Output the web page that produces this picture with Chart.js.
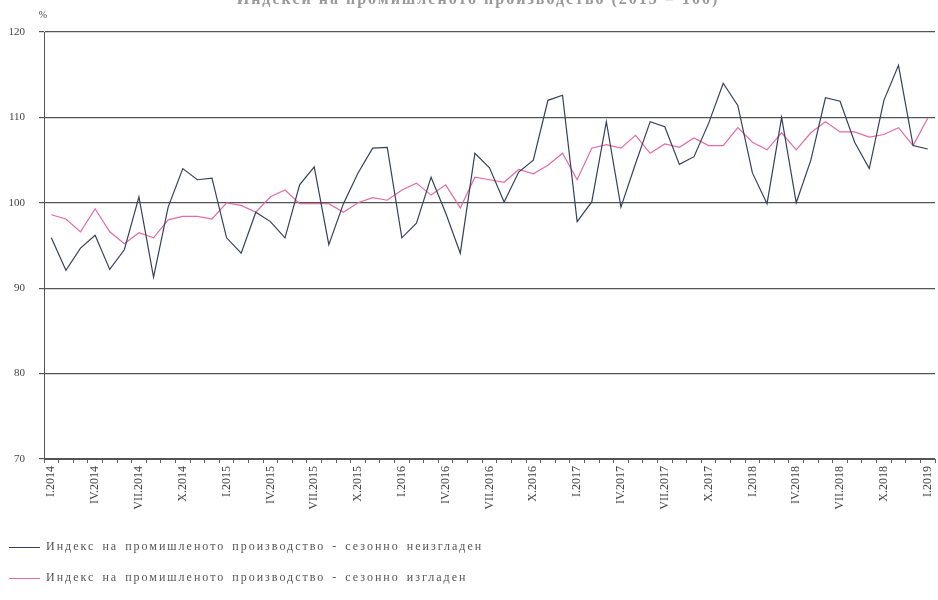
<!DOCTYPE html>
<html>
<head>
<meta charset="utf-8">
<script src="https://cdn.jsdelivr.net/npm/chart.js@4/dist/chart.umd.min.js"></script>
<style>
  body { margin: 0; background: #fff; }
  #wrap { position: relative; width: 938px; height: 600px; overflow: hidden; }
  #chart { display: block; }
  .leg { position: absolute; left: 9px; font: 12px "Liberation Serif", serif; letter-spacing: 2px; word-spacing: 2px; color: #555; white-space: nowrap; }
  .leg span.line { display: inline-block; width: 31px; height: 1px; vertical-align: middle; margin-right: 6px; }
</style>
</head>
<body>
<div id="wrap">
  <canvas id="chart" width="938" height="600"></canvas>
  <div class="leg" style="top:539px"><span class="line" style="background:#34405f"></span>Индекс на промишленото производство - сезонно неизгладен</div>
  <div class="leg" style="top:570px"><span class="line" style="background:#e46aa8"></span>Индекс на промишленото производство - сезонно изгладен</div>
</div>
<script>
var romans = ['I', 'II', 'III', 'IV', 'V', 'VI', 'VII', 'VIII', 'IX', 'X', 'XI', 'XII'];
var years = [2014, 2015, 2016, 2017, 2018, 2019];

// monthly, I.2014 .. I.2019
var unadjusted = [
  95.9, 92.1, 94.7, 96.2, 92.2, 94.5, 100.7, 91.3, 99.5, 104.0, 102.7, 102.9,
  95.9, 94.1, 98.9, 97.8, 95.9, 102.1, 104.2, 95.1, 99.9, 103.5, 106.4, 106.5,
  95.9, 97.6, 103.0, 98.8, 94.1, 105.8, 104.1, 100.1, 103.6, 105.0, 112.0, 112.6,
  97.8, 100.1, 109.5, 99.5, 104.6, 109.5, 108.9, 104.5, 105.4, 109.3, 114.0, 111.4,
  103.5, 99.9, 110.0, 100.0, 105.0, 112.3, 111.9, 107.1, 104.0, 112.0, 116.1, 106.7,
  106.3
];
var adjusted = [
  98.6, 98.1, 96.6, 99.3, 96.6, 95.2, 96.5, 95.9, 98.0, 98.4, 98.4, 98.1,
  100.0, 99.7, 98.9, 100.7, 101.5, 99.9, 99.9, 99.9, 98.9, 100.0, 100.6, 100.3,
  101.5, 102.3, 100.9, 102.1, 99.4, 103.0, 102.7, 102.4, 103.9, 103.4, 104.4, 105.8,
  102.7, 106.4, 106.8, 106.4, 107.9, 105.8, 106.9, 106.5, 107.6, 106.7, 106.7, 108.8,
  107.1, 106.2, 108.2, 106.2, 108.2, 109.5, 108.3, 108.3, 107.7, 108.0, 108.8, 106.7,
  109.9
];
var yTicks = [70, 80, 90, 100, 110, 120];

var labels = [];
years.forEach(function(y) {
  romans.forEach(function(r) {
    if (labels.length < unadjusted.length) labels.push(r + '.' + y);
  });
});

var serif = '"Liberation Serif", serif';

var extras = {
  id: 'extras',
  afterDraw: function(chart) {
    var ctx = chart.ctx;
    var area = chart.chartArea;
    ctx.save();
    ctx.fillStyle = '#444';
    ctx.font = '10px ' + serif;
    ctx.textAlign = 'center';
    ctx.textBaseline = 'middle';
    ctx.fillText('%', area.left - 1, 15);
    ctx.fillStyle = '#999';
    ctx.font = 'bold 16px ' + serif;
    ctx.letterSpacing = '2px';
    ctx.fillText('Индекси на промишленото производство (2015 = 100)', 478, 0);
    ctx.restore();
  }
};

new Chart(document.getElementById('chart'), {
  type: 'line',
  data: {
    labels: labels,
    datasets: [{
      label: 'Индекс на промишленото производство - сезонно неизгладен',
      data: unadjusted,
      borderColor: '#34405f',
      borderWidth: 1.2,
      pointRadius: 0,
      tension: 0,
      fill: false
    }, {
      label: 'Индекс на промишленото производство - сезонно изгладен',
      data: adjusted,
      borderColor: '#e46aa8',
      borderWidth: 1.2,
      pointRadius: 0,
      tension: 0,
      fill: false
    }]
  },
  options: {
    responsive: false,
    animation: false,
    layout: { padding: { top: 32, right: 3, left: 0, bottom: 0 } },
    plugins: {
      legend: { display: false },
      title: { display: false },
      tooltip: { enabled: false }
    },
    scales: {
      x: {
        offset: true,
        afterFit: function(s) { s.height = 141; s.paddingLeft = 0; s.paddingRight = 0; },
        grid: { drawOnChartArea: false, offset: true, tickLength: 4, color: '#666' },
        border: { color: '#555', width: 1 },
        ticks: {
          autoSkip: false,
          maxRotation: 90,
          minRotation: 90,
          padding: 3,
          color: '#444',
          font: { family: serif, size: 12 },
          callback: function(v, i) { return i % 3 === 0 ? labels[i] : ''; }
        }
      },
      y: {
        min: 70,
        max: 120,
        afterFit: function(s) { s.width = 44; s.paddingTop = 0; s.paddingBottom = 0; },
        afterBuildTicks: function(s) { s.ticks = yTicks.map(function(v) { return { value: v }; }); },
        grid: { color: '#555', lineWidth: 1.2, tickLength: 5 },
        border: { color: '#555', width: 1 },
        ticks: {
          padding: 14,
          color: '#444',
          font: { family: serif, size: 11 }
        }
      }
    }
  },
  plugins: [extras]
});
</script>
</body>
</html>
